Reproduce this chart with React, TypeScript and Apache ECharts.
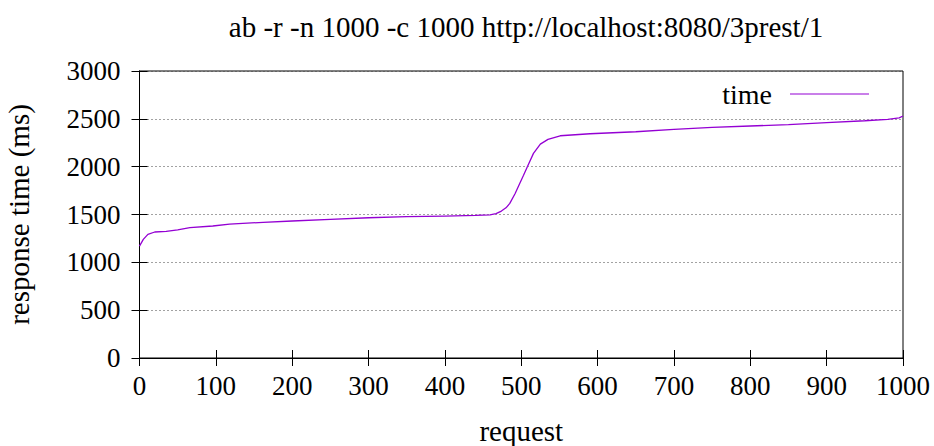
import React, { useEffect, useRef } from "react";
import * as echarts from "echarts";

const titleText = "ab -r -n 1000 -c 1000 http://localhost:8080/3prest/1";
const xName = "request";
const yName = "response time (ms)";
const seriesName = "time";

const requestX = [0, 5, 11, 20, 35, 50, 66, 96, 118, 162, 200, 250, 300, 350, 400, 440, 459, 467, 474, 480, 485, 492, 498, 503, 508, 516, 525, 535, 551, 590, 650, 700, 750, 800, 850, 900, 950, 980, 995, 1000];
const responseMs = [1170, 1240, 1292, 1317, 1324, 1340, 1362, 1380, 1400, 1418, 1432, 1450, 1466, 1477, 1484, 1490, 1497, 1510, 1536, 1570, 1616, 1720, 1825, 1910, 2000, 2139, 2236, 2285, 2323, 2344, 2365, 2390, 2410, 2425, 2440, 2460, 2480, 2495, 2510, 2530];

const FONT = "Liberation Serif";

export default function App() {
  const ref = useRef<HTMLDivElement>(null);
  useEffect(() => {
    if (!ref.current) return;
    const chart = echarts.init(ref.current, null, { renderer: "svg" });
    const data = requestX.map((x, i) => [x, responseMs[i]]);
    const axisLine = { show: true, lineStyle: { color: "#000", width: 1 } };
    const tick = { show: true, inside: true, length: 8, lineStyle: { color: "#000" } };
    const plain = (v: number) => String(v);
    chart.setOption({
      animation: false,
      backgroundColor: "#fff",
      textStyle: { fontFamily: FONT },
      title: {
        text: titleText,
        left: 521,
        textAlign: "center",
        top: 7,
        textStyle: { fontFamily: FONT, fontSize: 29, fontWeight: "normal", color: "#000" },
      },
      legend: {
        right: 60,
        top: 75,
        align: "right",
        itemWidth: 79,
        itemHeight: 14,
        data: [{ name: seriesName, icon: "path://M0,0 L100,0 L100,1 L0,1 Z" }],
        textStyle: { fontFamily: FONT, fontSize: 28, color: "#000", padding: [0, 13, 0, 0] },
        itemStyle: { color: "#9400D3" },
      },
      grid: {
        left: 139.5,
        right: 31,
        top: 71,
        bottom: 88,
        containLabel: false,
        outerBoundsMode: "none",
        show: true,
        borderColor: "#000",
        borderWidth: 1,
        backgroundColor: "transparent",
      },
      xAxis: [
        {
          type: "value",
          min: 0,
          max: 1000,
          interval: 100,
          position: "bottom",
          name: xName,
          nameLocation: "middle",
          nameGap: 58,
          nameTextStyle: { fontFamily: FONT, fontSize: 29, color: "#000" },
          axisLine,
          axisTick: tick,
          axisLabel: { fontFamily: FONT, fontSize: 27, color: "#000", margin: 14, formatter: plain },
          splitLine: { show: false },
        },
        {
          type: "value",
          min: 0,
          max: 1000,
          interval: 100,
          position: "top",
          show: true,
          axisLine,
          axisTick: tick,
          axisLabel: { show: false },
          splitLine: { show: false },
        },
      ],
      yAxis: [
        {
          type: "value",
          min: 0,
          max: 3000,
          interval: 500,
          position: "left",
          name: yName,
          nameLocation: "middle",
          nameGap: 106,
          nameRotate: 90,
          nameTextStyle: { fontFamily: FONT, fontSize: 29, color: "#000" },
          axisLine,
          axisTick: tick,
          axisLabel: { fontFamily: FONT, fontSize: 27, color: "#000", margin: 19, formatter: plain },
          splitLine: { show: true, lineStyle: { color: "#444", type: [1, 3], width: 1 } },
        },
        {
          type: "value",
          min: 0,
          max: 3000,
          interval: 500,
          position: "right",
          show: true,
          axisLine,
          axisTick: tick,
          axisLabel: { show: false },
          splitLine: { show: false },
        },
      ],
      series: [
        {
          name: seriesName,
          type: "line",
          data,
          xAxisIndex: 0,
          yAxisIndex: 0,
          symbol: "none",
          smooth: false,
          lineStyle: { color: "#9400D3", width: 1.3 },
          itemStyle: { color: "#9400D3" },
        },
        {
          name: "_mirror",
          type: "line",
          data: [],
          xAxisIndex: 1,
          yAxisIndex: 1,
          symbol: "none",
          silent: true,
        },
      ],
    });
    return () => chart.dispose();
  }, []);
  return <div ref={ref} style={{ width: 934, height: 446, position: "absolute", left: 0, top: 0 }} />;
}
